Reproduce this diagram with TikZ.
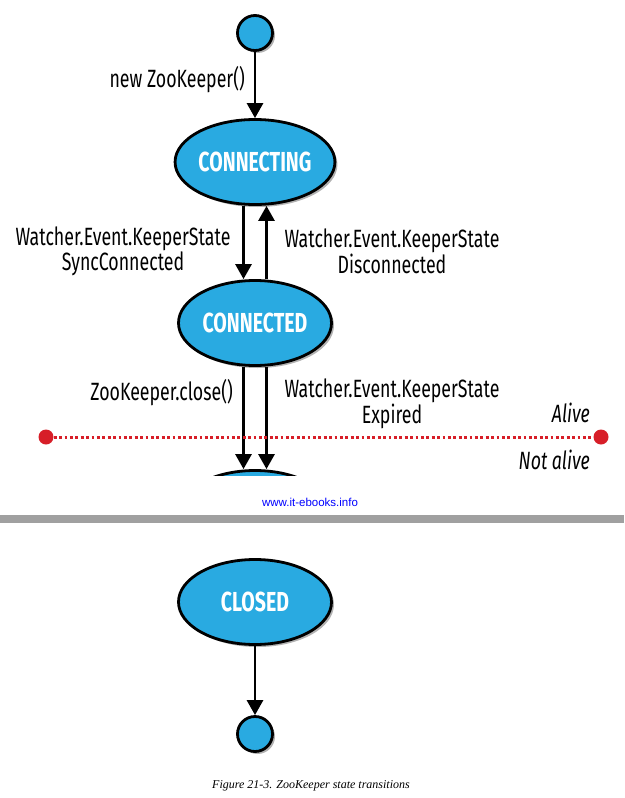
\documentclass[tikz,border=0pt]{standalone}
\usepackage{fontspec}
\setmainfont{Liberation Serif}
\newfontfamily\cnd[FakeStretch=0.71]{Fira Sans}
\newfontfamily\arialf{Liberation Sans}
\usetikzlibrary{arrows.meta,shapes.geometric,shadows}
\definecolor{stateblue}{RGB}{41,170,225}
\definecolor{dotred}{RGB}{215,30,40}
\definecolor{bargray}{RGB}{160,160,160}
\begin{document}
\begin{tikzpicture}[x=1pt,y=-1pt,
  shadowed/.style={drop shadow={shadow xshift=2.5pt,shadow yshift=-2.5pt,fill=black,opacity=0.3}},
  state/.style={ellipse,draw=black,line width=2.8pt,fill=stateblue,minimum width=153pt,minimum height=85pt,inner sep=0pt,text=white,font=\cnd\bfseries\fontsize{27.5}{27.5}\selectfont,shadowed},
  pseudo/.style={circle,draw=black,line width=2.8pt,fill=stateblue,minimum size=35pt,inner sep=0pt,shadowed},
  lbl/.style={font=\cnd\fontsize{25}{23}\selectfont,align=center,inner sep=0pt},
  ilbl/.style={font=\cnd\itshape\fontsize{25}{23}\selectfont,inner sep=0pt},
  flow/.style={line width=2.8pt,-{Triangle[width=16pt,length=15pt]}},
  reddot/.style={circle,fill=dotred,minimum size=15pt,inner sep=0pt},
  dotline/.style={dotred,line width=3pt,dash pattern=on 2.8pt off 2.6pt}]
\useasboundingbox (0,0) rectangle (624,798);
\fill[white] (0,0) rectangle (624,798);
% states
\node[pseudo] (start) at (255,33) {};
\node[state] (ing) at (255,162) {CONNECTING};
\node[state] (ed) at (255,323) {CONNECTED};
\begin{scope}
  \clip (0,0) rectangle (624,475);
  \node[state] (cut) at (255,513) {};
\end{scope}
\node[state] (closed) at (255,602) {CLOSED};
\node[pseudo] (end) at (255,734) {};
% transitions
\draw[flow] (start) -- (ing);
\draw[flow] ([xshift=-11.5pt]ing.south) -- ([xshift=-11.5pt]ed.north);
\draw[flow] ([xshift=11.5pt]ed.north) -- ([xshift=11.5pt]ing.south);
\draw[flow] ([xshift=-11.5pt]ed.south) -- ([xshift=-11.5pt]cut.north);
\draw[flow] ([xshift=11.5pt]ed.south) -- ([xshift=11.5pt]cut.north);
\draw[flow] (closed) -- (end);
% labels
\node[lbl,anchor=east] (l1) at (245,80) {new ZooKeeper()};
\node[lbl] (l2) at (123,251) {Watcher.Event.KeeperState\\SyncConnected};
\node[lbl] (l3) at (392,251) {Watcher.Event.KeeperState\\Disconnected};
\node[lbl,anchor=east] (l4) at (233,393) {ZooKeeper.close()};
\node[lbl] (l5) at (392,404) {Watcher.Event.KeeperState\\Expired};
% alive line
\node[reddot] (dl) at (46,437) {};
\node[reddot] (dr) at (601,437) {};
\draw[dotline] (dl) -- (dr);
\node[ilbl,anchor=east] (alive) at (590,413) {Alive};
\node[ilbl,anchor=east] (notalive) at (590,460) {Not alive};
% page furniture
\node[font=\arialf\fontsize{11.5}{13}\selectfont,text=blue] (url) at (310,502) {www.it-ebooks.info};
\fill[bargray] (0,515) rectangle (624,523);
\node[font=\itshape\fontsize{12}{14}\selectfont] (cap) at (311,786) {Figure 21-3. ZooKeeper state transitions};
\end{tikzpicture}
\end{document}
